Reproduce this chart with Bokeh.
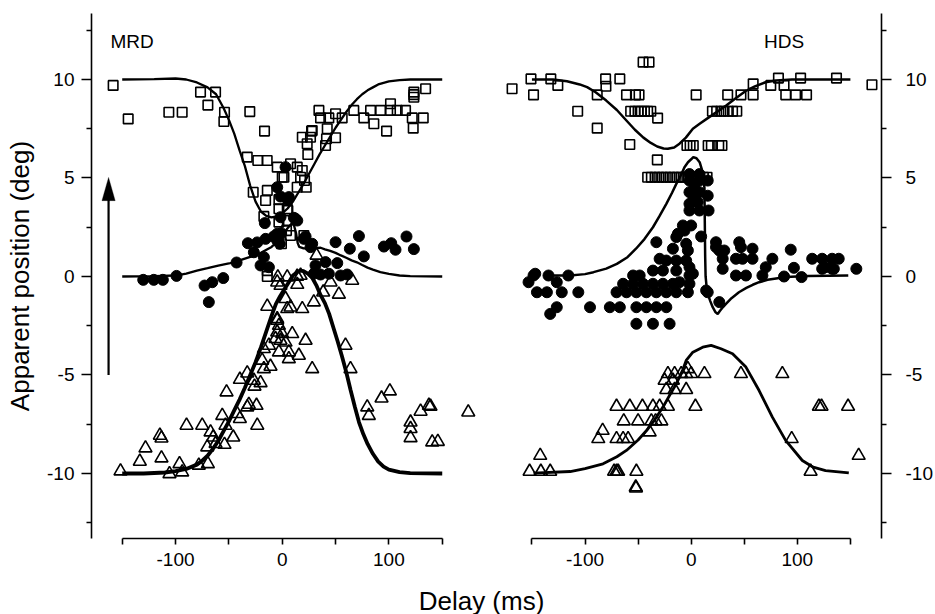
from bokeh.plotting import figure
from bokeh.layouts import row, column
from bokeh.models import Range1d, FixedTicker, Label, Arrow, PolyAnnotation
from bokeh.embed import file_html
from bokeh.resources import INLINE

FONT = "Liberation Sans"

# ---------------- axis ticks ----------------
Y_TICKS = [-10, -5, 0, 5, 10]
Y_MINOR = [-12.5, -7.5, -2.5, 2.5, 7.5, 12.5]
Y_LABELS = {-10: "-10", -5: "-5", 0: "0", 5: "5", 10: "10"}
X_TICKS = [-100, 0, 100]
X_MINOR = [-150, -50, 50, 150]
X_LABELS = {-100: "-100", 0: "0", 100: "100"}

# ---------------- MRD (left panel) ----------------
mrd_sq_x = [-158.5, -144.4, -106.3, -93.8, -76.6, -62.5, -69.7, -54.1, -54.7, -30.4, -16.6, -32.8, -22.9,
            -14.1, -4.7, 7.8, 14.1, 18.8, 0.0, 17.2, 20.9, 14.0, 22.5, -27.2, -14.0, 34.4, 35.9, 43.7, 50.0,
            56.2, 27.5, 18.8, 26.5, 23.4, 24.0, 42.2, 41.5, 50.0, 40.6, 67.1, 76.5, 82.8, 85.9, 92.2, 101.5,
            101.5, 107.8, 115.6, 97.8, 121.9, 122.8, 132.2, 123.4, 123.4, 123.4, 134.4,
            -15.6, -17.2, -3.1, -3.1, 4.7, -3.1, 4.7, 4.0, 7.8, -0.7, -14.0, -14.0, 1.6, 20.3, 28.1, 5.3]
mrd_sq_y = [9.7, 8.0, 8.34, 8.34, 9.36, 9.36, 8.7, 8.34, 7.87, 8.37, 7.38, 6.06, 5.89,
            5.89, 5.55, 5.72, 5.55, 5.38, 5.04, 5.04, 4.87, 4.53, 4.53, 4.28, 4.37, 8.43, 8.05, 8.05, 8.26,
            8.05, 7.38, 7.07, 7.07, 6.74, 6.19, 7.5, 6.99, 7.04, 6.65, 8.43, 8.05, 8.43, 7.75, 8.43, 8.77,
            8.43, 8.43, 8.43, 7.38, 8.05, 7.53, 8.05, 9.36, 9.1, 9.23, 9.53,
            3.86, 3.05, 3.9, 3.44, 3.44, 2.76, 2.84, 2.33, 2.08, 1.66, 0.3, 0.0, 5.04, 2.08, 7.41, 3.35]

mrd_ci_x = [-130.3, -120.4, -111.9, -99.1, -72.8, -65.6, -55.3, -68.8, -42.8, -32.2, -23.4, -15.6, -26.6,
            -17.2, -20.3, -12.5, -16.3, -4.7, 3.1, -1.6, 5.3, -1.6, 10.9, 14.1, -4.7, -4.7, -2.2, 21.9, 28.1,
            50.0, 71.9, 63.4, 76.5, 95.3, 102.2, 106.2, 116.5, 123.4, 31.2, 35.9, 29.6, 43.7, 51.6, 54.7,
            60.9, 40.6, 6.2, 12.5, -4.1, 26.5, 20.3, -8.0, -1.0]
mrd_ci_y = [-0.17, -0.17, -0.17, 0.03, -0.46, -0.29, -0.08, -1.3, 0.71, 1.69, 1.73, 1.91, 1.23,
            0.98, 0.56, 0.47, 2.71, 4.53, 5.55, 4.06, 3.89, 3.01, 2.98, 2.84, 2.17, 1.83, 1.66, 2.03, 1.66,
            1.74, 2.05, 1.41, 1.02, 1.52, 1.69, 1.36, 2.03, 1.39, 0.56, 0.1, 0.14, 0.14, 0.68, 0.05,
            0.1, 0.73, 4.03, 2.93, 1.91, 1.49, 1.91, 2.03, 2.2]

mrd_tr_x = [-151.6, -133.5, -128.2, -113.2, -114.7, -113.2, -105.7, -96.3, -93.8, -89.7, -75.0, -78.2,
            -69.7, -67.2, -64.7, -70.3, -62.5, -54.1, -56.2, -52.2, -53.2, -45.9, -42.2, -39.7, -32.8,
            -31.3, -24.1, -23.4, -39.7, -32.8, -26.6, -26.0, -20.3, -18.8, -17.2, -11.0, -17.2, -12.5,
            -3.1, -6.3, -4.7, 0.0, -1.6, 3.1, 6.2, 6.2, 9.4, 15.6, 21.9, 28.1, -4.7, -3.1, -14.0, 4.7,
            18.8, 29.6, 59.3, 64.0, 79.7, 81.2, 93.1, 100.9, 120.3, 120.3, 120.3, 129.7, 137.5, 139.0,
            140.6, 145.9, 174.4,
            32.2, -4.1, 4.7, -1.6, 14.1, 17.2, 45.3, 65.6, 53.1, 38.4, 3.1, 7.8, -4.7, -4.7, 14.0]
mrd_tr_y = [-9.88, -9.39, -8.71, -9.22, -8.07, -8.21, -10.02, -9.51, -9.93, -7.56, -7.56, -9.59,
            -9.51, -7.9, -8.16, -8.66, -8.49, -8.53, -7.06, -5.87, -7.56, -8.16, -6.97, -7.22, -6.63,
            -6.5, -6.55, -7.56, -5.23, -4.91, -5.28, -5.58, -5.4, -4.26, -4.69, -4.57, -3.67, -3.5,
            -3.84, -3.16, -2.83, -2.91, -3.25, -3.34, -3.84, -4.18, -2.91, -4.01, -3.25, -4.69, -2.23,
            -2.49, -1.52, -1.64, -1.64, -1.3, -3.5, -4.69, -6.63, -7.06, -6.18, -5.82, -7.4, -7.73,
            -8.19, -6.85, -6.55, -6.6, -8.41, -8.38, -6.89,
            1.07, -0.03, -0.03, -0.46, -0.41, 0.05, -0.29, -0.2, -0.91, -0.8, -1.13, -1.56, -2.15,
            -0.29, 0.0]

mrd_sq_fit_x = [-150, -120, -100, -90, -80, -70, -62, -55, -50, -45, -40, -35, -30, -25, -20, -15, -10,
                -5, 0, 5, 10, 15, 20, 25, 30, 35, 40, 45, 50, 55, 60, 65, 70, 75, 80, 85, 90, 100, 110,
                120, 150]
mrd_sq_fit_y = [10.0, 10.02, 10.05, 10.0, 9.85, 9.6, 9.25, 8.55, 7.95, 7.25, 6.4, 5.6, 4.6, 3.8, 3.3,
                3.08, 3.0, 3.05, 3.2, 3.45, 3.8, 4.25, 4.7, 5.2, 5.7, 6.2, 6.65, 7.1, 7.55, 7.95, 8.35,
                8.7, 9.0, 9.25, 9.45, 9.6, 9.75, 9.9, 9.97, 10.0, 10.0]

mrd_ci_fit_x = [-150, -120, -100, -90, -80, -70, -60, -50, -45, -40, -30, -26, -20, -10, -5, 0, 5, 9,
                11, 13, 14.5, 16, 20, 25, 30, 36, 40, 45, 50, 55, 60, 65, 70, 75, 80, 85, 92, 100, 110,
                120, 150]
mrd_ci_fit_y = [0.0, 0.02, 0.05, 0.15, 0.3, 0.42, 0.55, 0.66, 0.73, 0.82, 1.0, 1.05, 1.2, 1.5, 1.75,
                2.1, 2.45, 2.7, 2.6, 2.2, 1.7, 1.5, 1.43, 1.42, 1.44, 1.46, 1.38, 1.3, 1.2, 1.07, 0.95,
                0.82, 0.72, 0.58, 0.45, 0.35, 0.22, 0.13, 0.05, 0.02, 0.0]

mrd_tr_fit_x = [-150, -130, -110, -100, -90, -80, -75, -70, -65, -60, -55, -50, -45, -40, -35, -30,
                -25, -20, -15, -10, -6, -2, 2, 6, 10, 14, 17, 20, 24, 28, 32, 36, 40, 44, 48, 52, 56,
                60, 64, 68, 72, 76, 80, 85, 90, 95, 100, 110, 120, 150]
mrd_tr_fit_y = [-10.0, -10.0, -9.95, -9.88, -9.77, -9.55, -9.35, -9.1, -8.75, -8.35, -7.85, -7.35,
                -6.8, -6.25, -5.65, -5.0, -4.35, -3.6, -2.8, -2.0, -1.4, -1.0, -0.65, -0.3, 0.05, 0.22,
                0.3, 0.27, 0.15, -0.05, -0.45, -0.95, -1.35, -1.9, -2.6, -3.3, -4.05, -4.85, -5.75,
                -6.6, -7.4, -8.0, -8.5, -9.0, -9.4, -9.65, -9.8, -9.93, -9.98, -10.0]

# ---------------- HDS (right panel) ----------------
hds_sq_x = [-168.7, -150.9, -148.5, -132.2, -125.6, -106.9, -88.5, -88.5, -80.6, -80.3, -67.2, -60.9,
            -52.5, -49.1, -57, -53, -50, -47, -44, -41, -38, -31.6, -45.3, -39.7, -57.8, -31.9, 4.7,
            -4, -1, 2, 16, 19, 26, 29, 20, 24, 28, 31, 35, 39, 43, 34.4, 46.9, 58.4, 58.4, 75.0, 82.2,
            87.5, 89.1, 98.4, 108.7, 103.1, 136.9, 170.3,
            -41, -37.5, -34, -30.5, -27, -23.5, -20, -16.5, -13, -9.5, -6, -2.5, 1, 4.5, 8, 11.5, 15]
hds_sq_y = [9.53, 10.03, 9.22, 10.03, 9.7, 8.39, 7.53, 9.22, 10.03, 9.66, 10.03, 9.22,
            9.22, 9.22, 8.39, 8.39, 8.39, 8.39, 8.39, 8.39, 8.39, 8.04, 10.88, 10.88, 6.7, 5.92, 9.22,
            6.65, 6.65, 6.65, 6.65, 6.65, 6.65, 6.65, 8.39, 8.39, 8.39, 8.39, 8.39, 8.39, 8.39, 9.22,
            9.22, 9.22, 9.78, 9.7, 10.07, 9.7, 9.22, 9.22, 9.22, 10.07, 10.07, 9.73,
            5.04, 5.04, 5.04, 5.04, 5.04, 5.04, 5.04, 5.04, 5.04, 5.04, 5.04, 5.04, 5.04, 5.04, 5.04,
            5.04, 5.04]

hds_ci_x = [-1.6, 7.8, 15.6, -1.6, 7.8, 15.6, -1.6, 6.2, -1.6, 7.8, 16.4, -1.6, 7.8, 3.0, 3.0,
            -7.8, 0.0, -32.8, 9.4, -14.0, -4.7, -3.1, -17.2, 23.4, 26.5, 45.3, 57.8, 93.8, 29.7, 29.7,
            48.4, 57.8, 76.5, 70.3, 42.2, 51.6, 67.1, 87.5, 96.8, 104.0, 114.0, 123.4, 132.8, 139.0,
            123.4, 132.8, 155.6, -1.6, 15.6, 26.5, -23.4, -29.7, -36.0, -26.6, -14.0, -54.7, -48.5,
            -64.1, -54.7, -45.3, -36.0, -26.6, -17.2,
            -70.3, -60.9, -51.6, -42.2, -32.8, -23.4, -14.0, -3.1,
            -76.6, -67.2, -51.6, -42.2, -32.8, -23.4,
            -51.6, -36.0, -20.3, -95.3, -132.8, -126.6, -148.5, -153.2, -134.4, -126.6, -115.7, -145.3,
            -135.9, -121.9, -106.3, -4.7, -1.6, -11.0, -12.5, -6.3, 14.1, -146.9, 1.6, -1.6, -14.0,
            23.4, 31.2, 46.9, 42.2, 126.6, 134.4]
hds_ci_y = [4.87, 4.87, 4.87, 4.28, 4.28, 4.1, 3.69, 3.77, 3.35, 3.35, 3.35, 5.2, 5.2, 4.5, 3.9,
            2.59, 2.59, 1.74, 2.03, 2.0, 1.66, 1.32, 1.41, 1.74, 1.32, 1.74, 1.41, 1.36, 0.9, 0.39,
            0.9, 0.9, 0.9, 0.47, 0.05, 0.05, 0.05, 0.0, 0.44, -0.03, 0.9, 0.9, 0.9, 0.9,
            0.39, 0.39, 0.39, 0.05, -0.8, -1.3, 0.81, 0.9, 0.3, 0.3, 0.3, 0.05, 0.05,
            -0.37, -0.37, -0.37, -0.37, -0.37, -0.37,
            -0.8, -0.8, -0.8, -0.8, -0.8, -0.8, -0.8, -0.8,
            -1.56, -1.56, -1.56, -1.56, -1.56, -1.56,
            -2.4, -2.4, -2.4, -1.56, -1.9, -1.56, 0.05, -0.29, 0.05, -0.29, 0.05, -0.8,
            -0.8, -0.8, -0.8, 0.81, 0.47, -0.29, 2.17, 2.33, -0.71, 0.14, 0.14, -0.37, 0.81,
            1.49, 1.32, 1.49, 0.9, 0.47, 0.39]

hds_tr_x = [-152.2, -141.6, -132.8, -142.2, -72.6, -70.3, -68.8, -51.6, -52.2, -52.0, -87.5, -83.4,
            -70.3, -64.1, -59.4, -70.3, -57.8, -45.9, -36.0, -29.7, -21.9, -63.5, -50.0, -37.5, -33.5,
            -28.1, -39.1, 4.0, -23.4, -15.6, -4.7, -25.0, -17.2, -21.9, -15.6, -9.4, -4.7, 0.0, -3.1,
            12.5, 46.9, 85.9, 94.7, 112.5, 120.3, 122.8, 147.8, 157.8]
hds_tr_y = [-9.9, -9.9, -9.9, -9.09, -9.9, -9.9, -9.9, -9.9, -10.69, -10.75, -8.24, -7.82,
            -8.24, -8.24, -8.24, -6.6, -6.6, -6.6, -6.6, -6.6, -6.6, -7.34, -7.34, -7.34, -7.34,
            -7.34, -7.9, -6.6, -5.75, -5.75, -5.75, -5.28, -5.28, -4.94, -4.94, -4.94, -4.94, -4.94,
            -4.69, -4.94, -4.94, -4.94, -8.24, -9.9, -6.6, -6.6, -6.6, -9.09]

hds_sq_fit_x = [-150, -130, -117, -105, -98, -90, -80, -70, -61, -53, -45, -38, -32, -26, -22, -16,
                -11, -5, 1.6, 8, 17, 25, 33, 42, 52, 60, 70, 80, 95, 150]
hds_sq_fit_y = [10.0, 10.0, 9.91, 9.75, 9.61, 9.35, 8.93, 8.45, 7.92, 7.45, 7.05, 6.78, 6.6, 6.5,
                6.48, 6.55, 6.74, 7.05, 7.5, 7.75, 8.09, 8.38, 8.68, 9.05, 9.44, 9.65, 9.86, 9.95,
                10.0, 10.0]

hds_ci_fit_x = [-133, -114, -100, -92, -80, -70, -60, -52, -44, -36, -30, -23.4, -18, -14, -10, -6.3,
                -3, 0, 2, 5, 8, 10, 11.5, 12.5, 12.8, 13.2, 13.6, 14.5, 15.6, 18, 20.3, 23, 25, 27, 30,
                32.8, 38, 45, 52, 58, 64, 72, 80, 89, 110, 148]
hds_ci_fit_y = [0.05, 0.05, 0.12, 0.22, 0.4, 0.64, 0.98, 1.41, 1.9, 2.5, 3.05, 3.69, 4.25, 4.7, 5.1,
                5.55, 5.8, 5.95, 6.06, 6.0, 5.8, 5.45, 5.0, 4.5, 3.0, 1.0, 0.0, -0.5, -0.88, -1.25,
                -1.56, -1.82, -1.9, -1.75, -1.55, -1.39, -1.1, -0.8, -0.58, -0.42, -0.29, -0.17, -0.1,
                -0.03, 0.02, 0.05]

hds_tr_fit_x = [-148.5, -114, -100, -83, -70, -61, -50, -42, -34, -26.6, -20, -14, -8, -4.7, 1.6,
                10.9, 18.8, 28.1, 39, 51.6, 64, 76.5, 89, 104.7, 115, 126.6, 148.5]
hds_tr_fit_y = [-9.98, -9.9, -9.75, -9.51, -9.15, -8.83, -8.3, -7.82, -7.25, -6.63, -6.0, -5.45,
                -4.75, -4.26, -3.84, -3.59, -3.5, -3.67, -3.92, -4.6, -5.79, -7.14, -8.32, -9.34,
                -9.68, -9.85, -9.97]

# arrow annotation (left panel)
ARROW_X = -162.8

SQ = dict(marker="square", size=9.5, line_width=1.6, line_color="black", fill_alpha=0)
TR = dict(marker="triangle", size=13, line_width=1.6, line_color="black", fill_alpha=0)
CI = dict(marker="circle", size=11, line_color="black", fill_color="black")


def style_common(p):
    p.outline_line_color = None
    p.xgrid.visible = False
    p.ygrid.visible = False
    p.background_fill_color = "white"
    p.border_fill_color = "white"


def style_xaxis(ax):
    ax.bounds = (-150, 150)
    ax.ticker = FixedTicker(ticks=X_TICKS, minor_ticks=X_MINOR)
    ax.major_label_overrides = X_LABELS
    ax.major_tick_in = 0
    ax.major_tick_out = 6
    ax.minor_tick_in = 0
    ax.minor_tick_out = 6
    ax.axis_line_width = 1.6
    ax.major_tick_line_width = 1.6
    ax.minor_tick_line_width = 1.6
    ax.major_label_standoff = 8
    ax.major_label_text_font = FONT
    ax.major_label_text_font_size = "19px"
    ax.major_label_text_color = "black"


def style_yaxis(ax, standoff):
    ax.ticker = FixedTicker(ticks=Y_TICKS, minor_ticks=Y_MINOR)
    ax.major_label_overrides = Y_LABELS
    ax.major_tick_in = 0
    ax.major_tick_out = 10
    ax.minor_tick_in = 0
    ax.minor_tick_out = 5
    ax.axis_line_width = 1.6
    ax.major_tick_line_width = 1.6
    ax.minor_tick_line_width = 1.6
    ax.major_label_standoff = standoff
    ax.major_label_text_font = FONT
    ax.major_label_text_font_size = "19px"
    ax.major_label_text_color = "black"


# ---------------- left figure ----------------
left = figure(width=486, height=579, x_range=Range1d(-178.8, 191.5), y_range=Range1d(-13.3, 13.35),
              output_backend="svg", toolbar_location=None,
              min_border_left=91, min_border_right=0, min_border_top=13, min_border_bottom=41)
style_common(left)
style_xaxis(left.xaxis[0])
ya = left.yaxis[0]
style_yaxis(ya, 7)
ya.axis_label = "Apparent position (deg)"
ya.axis_label_text_font = FONT
ya.axis_label_text_font_size = "26px"
ya.axis_label_text_font_style = "normal"
ya.axis_label_text_color = "black"
ya.axis_label_standoff = 9

left.scatter(mrd_sq_x, mrd_sq_y, **SQ)
left.scatter(mrd_tr_x, mrd_tr_y, **TR)
left.scatter(mrd_ci_x, mrd_ci_y, **CI)
left.line(mrd_sq_fit_x, mrd_sq_fit_y, line_color="black", line_width=2.3)
left.line(mrd_ci_fit_x, mrd_ci_fit_y, line_color="black", line_width=2.3)
left.line(mrd_tr_fit_x, mrd_tr_fit_y, line_color="black", line_width=3.8)

left.add_layout(Arrow(end=None, x_start=ARROW_X, y_start=-5, x_end=ARROW_X, y_end=4.0,
                      line_width=2.2, line_color="black"))
left.add_layout(PolyAnnotation(xs=[ARROW_X - 6.2, ARROW_X, ARROW_X + 6.2], ys=[3.85, 5.03, 3.85],
                               fill_color="black", fill_alpha=1, line_color="black", line_width=1))
left.add_layout(Label(x=-161, y=11.93, text="MRD", text_font=FONT, text_font_size="19px",
                      text_align="left", text_baseline="alphabetic", text_color="black"))

# ---------------- right figure ----------------
right = figure(width=449, height=579, x_range=Range1d(-192.8, 179.3), y_range=Range1d(-13.3, 13.35),
               output_backend="svg", toolbar_location=None, y_axis_location="right",
               min_border_left=0, min_border_right=52, min_border_top=13, min_border_bottom=41)
style_common(right)
style_xaxis(right.xaxis[0])
style_yaxis(right.yaxis[0], 14)

right.scatter(hds_sq_x, hds_sq_y, **SQ)
right.scatter(hds_tr_x, hds_tr_y, **TR)
right.scatter(hds_ci_x, hds_ci_y, **CI)
right.line(hds_sq_fit_x, hds_sq_fit_y, line_color="black", line_width=2.5)
right.line(hds_ci_fit_x, hds_ci_fit_y, line_color="black", line_width=2.5)
right.line(hds_tr_fit_x, hds_tr_fit_y, line_color="black", line_width=2.8)
right.add_layout(Label(x=68.7, y=11.93, text="HDS", text_font=FONT, text_font_size="19px",
                       text_align="left", text_baseline="alphabetic", text_color="black"))

# ---------------- shared x label ----------------
bottom = figure(width=935, height=35, x_range=Range1d(0, 935), y_range=Range1d(0, 35),
                output_backend="svg", toolbar_location=None, min_border=0,
                x_axis_location=None, y_axis_location=None)
style_common(bottom)
bottom.add_layout(Label(x=481, y=14, text="Delay (ms)", text_font=FONT, text_font_size="26px",
                        text_align="center", text_baseline="middle", text_color="black"))

layout = column(row(left, right), bottom)
open("out.html", "w").write(file_html(layout, INLINE))
